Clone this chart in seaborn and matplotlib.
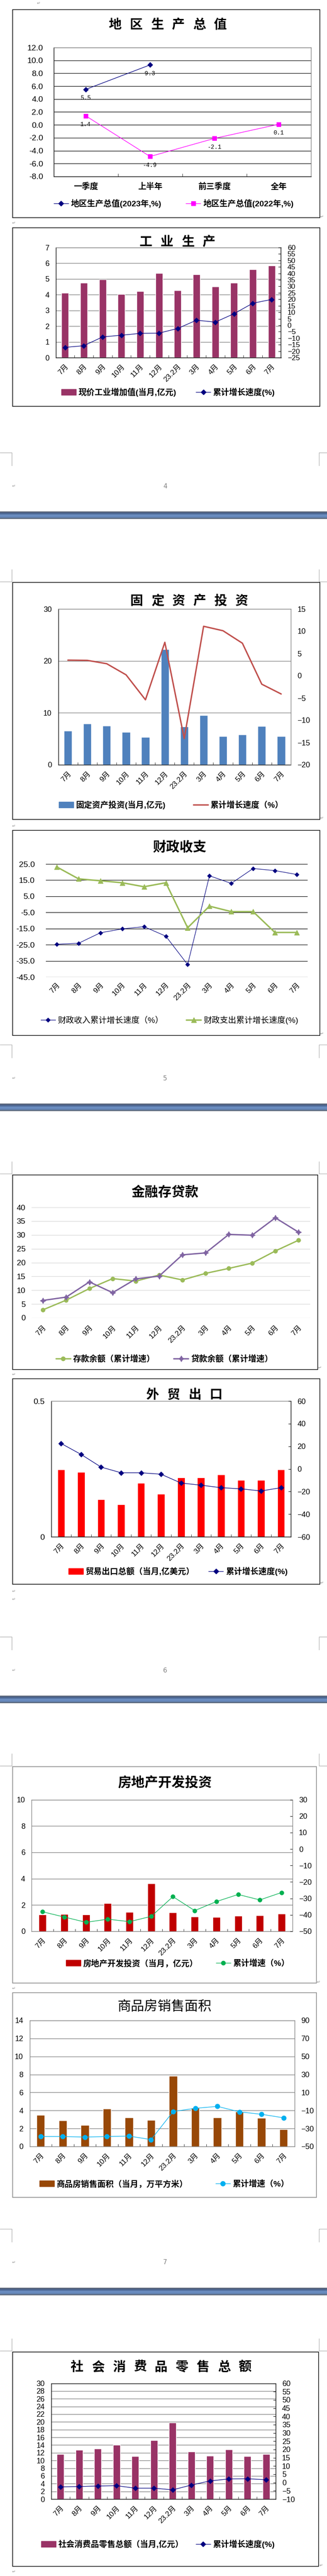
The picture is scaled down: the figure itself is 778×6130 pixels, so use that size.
import numpy as np
import pandas as pd
import matplotlib
matplotlib.use("Agg")
import matplotlib.pyplot as plt
import seaborn as sns
from matplotlib.patches import Rectangle, Patch
from matplotlib.lines import Line2D

# plain white look, black text like the Word charts
sns.set_style("white", {"axes.edgecolor": "black", "text.color": "black",
                        "xtick.color": "black", "ytick.color": "black"})
FONTS = ["Liberation Sans", "Noto Sans CJK SC", "DejaVu Sans"]
plt.rcParams["font.family"] = FONTS

# ---- data ----
REGIONS = ["一季度", "上半年", "前三季度", "全年"]
gdp_2023 = [5.5, 9.3, None, None]
gdp_2022 = [1.4, -4.9, -2.1, 0.1]

MONTHS = ["7月", "8月", "9月", "10月", "11月", "12月", "23.2月", "3月", "4月", "5月", "6月", "7月"]

ind_value = [4.12, 4.76, 4.98, 4.04, 4.23, 5.38, 4.28, 5.30, 4.52, 4.76, 5.62, 5.86]
ind_growth = [-17.1, -15.8, -9.0, -7.7, -6.3, -6.1, -2.5, 3.9, 2.4, 8.9, 17.0, 19.9]

fai_value = [6.57, 7.95, 7.56, 6.33, 5.37, 22.23, 7.38, 9.57, 5.52, 5.85, 7.47, 5.52]
fai_growth = [3.5, 3.45, 2.7, 0.2, -5.4, 7.5, -14.1, 11.1, 10.1, 7.3, -1.9, -4.1]

rev_growth = [-24.7, -24.1, -17.6, -15.2, -13.8, -19.7, -37.3, 17.7, 13.0, 22.2, 20.9, 18.5]
exp_growth = [23.2, 15.8, 14.6, 13.4, 10.9, 13.4, -14.5, -1.1, -4.5, -4.5, -17.4, -17.4]

deposit_growth = [2.9, 6.4, 10.6, 14.2, 13.3, 15.5, 13.7, 16.1, 17.9, 19.8, 24.2, 28.1]
loan_growth = [6.3, 7.5, 13.0, 9.1, 14.1, 15.1, 22.8, 23.5, 30.2, 29.9, 36.2, 31.0]

export_value = [0.248, 0.239, 0.138, 0.119, 0.198, 0.158, 0.219, 0.219, 0.229, 0.209, 0.209, 0.248]
export_growth = [22.5, 12.8, 1.6, -3.4, -3.4, -4.7, -12.5, -14.4, -16.6, -17.6, -19.5, -16.6]

re_value = [1.27, 1.31, 1.27, 2.14, 1.48, 3.64, 1.44, 1.12, 1.08, 1.19, 1.21, 1.34]
re_growth = [-38.1, -41.3, -44.5, -42.6, -44.1, -40.9, -28.9, -37.4, -31.9, -27.6, -30.9, -26.4]

sales_area = [3.49, 2.89, 2.37, 4.19, 3.21, 2.94, 7.83, 4.28, 3.21, 3.87, 3.17, 1.91]
sales_growth = [-38.9, -38.9, -39.5, -38.9, -38.4, -42.3, -11.1, -7.6, -5.4, -11.5, -14.2, -18.1]

retail_value = [11.64, 12.75, 13.08, 14.04, 11.12, 15.24, 19.79, 12.31, 11.21, 12.84, 11.12, 11.64]
retail_growth = [-2.6, -2.4, -2.1, -1.9, -3.4, -3.4, -4.4, -1.5, 1.0, 2.2, 2.3, 1.7]

NAVY, MAGENTA, MAROON = "#000080", "#FF00FF", "#993366"
STEEL, BRICK, OLIVE, PURPLE = "#4F81BD", "#C0504D", "#9BBB59", "#8064A2"
RED, DARKRED, GREEN, BROWN, CYAN = "#FF0000", "#C00000", "#00B050", "#984807", "#00B0F0"
GRAY = "#808080"

W, H = 778, 6130
fig = plt.figure(figsize=(W / 100, H / 100), dpi=100)


def fx(x):
    return x / W


def fy(y):
    return 1 - y / H


def add_ax(x0, y0, x1, y1):
    return fig.add_axes([fx(x0), fy(y1), (x1 - x0) / W, (y1 - y0) / H])


def frame(x0, y0, x1, y1, color="black", lw=1.1):
    fig.add_artist(Rectangle((fx(x0), fy(y1)), (x1 - x0) / W, (y1 - y0) / H,
                             transform=fig.transFigure, fill=False, ec=color, lw=lw))


def title(cx, cy, text, size=23, pitch=None, weight="bold"):
    if pitch is None:
        fig.text(fx(cx), fy(cy), text, ha="center", va="center", fontsize=size, fontweight=weight)
        return
    n = len(text)
    for i, ch in enumerate(text):
        fig.text(fx(cx + (i - (n - 1) / 2) * pitch), fy(cy), ch, ha="center", va="center",
                 fontsize=size, fontweight=weight)


def legend(handles, labels, cx, cy, colsp=2.5, size=14, weight="bold", hl=1.8):
    fig.legend(handles, labels, loc="center", bbox_to_anchor=(fx(cx), fy(cy)), ncol=2,
               frameon=False, prop={"size": size, "weight": weight, "family": FONTS},
               handlelength=hl, handletextpad=0.3, columnspacing=colsp,
               borderaxespad=0, borderpad=0)


def fmt(v):
    s = f"{v:g}"
    return s.replace("-", "\u2212")


def style(ax, left=None, right=None, top=None, bottom=None):
    for side, c in (("left", left), ("right", right), ("top", top), ("bottom", bottom)):
        if c is None:
            ax.spines[side].set_visible(False)
        else:
            ax.spines[side].set_visible(True)
            ax.spines[side].set_color(c)
            ax.spines[side].set_linewidth(1)


def month_axis(ax, pad=10, size=12.5, boundary=True):
    ax.set_xlim(-0.5, 11.5)
    ax.set_xticks(range(12))
    ax.set_xticklabels(MONTHS, rotation=45, ha="right", rotation_mode="anchor", fontsize=size)
    ax.tick_params(axis="x", which="major", length=0, pad=pad)
    if boundary:
        ax.set_xticks(np.arange(0.5, 11.5, 1), minor=True)
        ax.tick_params(axis="x", which="minor", bottom=True, direction="in", length=4,
                       color="black")
    ax.set_xlabel("")


def dual_chart(rect, bars, line, bar_color, line_kw, ylim, yticks, y2lim, y2ticks,
               width=0.38, grid=GRAY, sp=("black", "black", GRAY, "black"),
               right_ticks=True, ylabels=None, ysize=13, y2size=13):
    ax = add_ax(*rect)
    x = np.arange(len(bars))
    sns.barplot(x=x, y=bars, ax=ax, color=bar_color, saturation=1, width=width, errorbar=None)
    ax2 = ax.twinx()
    sns.lineplot(x=x, y=line, ax=ax2, **line_kw)
    ax.set_ylim(*ylim)
    ax.set_yticks(yticks)
    ax.set_yticklabels(ylabels or [fmt(v) for v in yticks], fontsize=ysize)
    ax.tick_params(axis="y", length=0, pad=11)
    ax.yaxis.grid(True, color=grid, lw=1)
    ax.set_axisbelow(True)
    ax2.set_ylim(*y2lim)
    ax2.set_yticks(y2ticks)
    ax2.set_yticklabels([fmt(v) for v in y2ticks], fontsize=y2size)
    ax2.tick_params(axis="y", right=right_ticks, direction="in", length=4, pad=11)
    month_axis(ax)
    ax.set_ylabel("")
    ax2.set_ylabel("")
    style(ax, left=sp[0], right=None, top=sp[2], bottom=sp[3])
    style(ax2, right=sp[1])
    return ax, ax2


def line_handle(color, marker, ms, lw):
    return Line2D([], [], color=color, marker=marker, markersize=ms, lw=lw,
                  markeredgecolor=color, markerfacecolor=color)


# ---- page furniture (Word page breaks) ----
def band(y0, y1):
    bax = fig.add_axes([0, fy(y1), 1, (y1 - y0) / H])
    keys = np.array([[0x5F, 0x68, 0x78], [0x48, 0x62, 0x8F], [0x6E, 0x91, 0xC4],
                     [0x64, 0x86, 0xBA], [0x5D, 0x66, 0x73]]) / 255
    rows = np.linspace(0, len(keys) - 1, 18)
    grad = np.stack([np.interp(rows, np.arange(len(keys)), keys[:, c]) for c in range(3)], axis=1)
    bax.imshow(grad[:, None, :], aspect="auto")
    bax.axis("off")


def seg(x0, y0, x1, y1, color="#A6A6A6"):
    fig.add_artist(Line2D([fx(x0), fx(x1)], [fy(y0), fy(y1)], transform=fig.transFigure,
                          color=color, lw=0.8))


def page_top(y):
    seg(28, y - 29, 28, y)
    seg(0, y, 28, y)
    seg(759, y - 29, 759, y)
    seg(759, y, 778, y)


def page_bottom(y):
    seg(0, y, 28, y)
    seg(28, y, 28, y + 31)
    seg(759, y, 778, y)
    seg(759, y, 759, y + 31)


def para(x, y):
    fig.text(fx(x), fy(y), "\u21b5", color="#8C8C8C", fontsize=7, ha="center", va="center",
             family="DejaVu Sans")


for yb, yt, num, y_num, yband in [(1077, 1384, "4", 1157, 1217), (2486, 2793, "5", 2566, 2626),
                                  (3895, 4202, "6", 3975, 4035), (5304, 5594, "7", 5384, 5444)]:
    page_bottom(yb)
    page_top(yt)
    band(yband, yband + 18)
    fig.text(fx(393), fy(y_num), num, color=GRAY, fontsize=11, ha="center", va="center",
             family="DejaVu Sans")
    para(33, y_num)

for px, py in [(92, 8), (766, 516), (33, 531), (766, 1947), (33, 1966), (766, 2460),
               (761, 3255), (33, 3271), (766, 3767), (33, 3787), (33, 3806),
               (758, 4717), (33, 4732), (764, 6105), (33, 6120)]:
    para(px, py)

# ---- 1. 地区生产总值 ----
frame(30, 23, 761, 518)
title(399, 60, "地区生产总值", size=22, pitch=50)
ax = add_ax(127.5, 113, 739.5, 420)
x4 = np.arange(len(REGIONS))
s23 = pd.Series(gdp_2023, dtype=float)
ok = s23.notna().values
sns.lineplot(x=x4[ok], y=s23.values[ok], ax=ax, color=NAVY, marker="D", markersize=6,
             linewidth=1, markeredgecolor=NAVY)
sns.lineplot(x=x4, y=gdp_2022, ax=ax, color=MAGENTA, marker="s", markersize=7,
             linewidth=1, markeredgecolor=MAGENTA)
for xs, ys in [(x4[ok], s23.values[ok]), (x4, gdp_2022)]:
    for xi, yi in zip(xs, ys):
        ax.annotate(f"{yi:.1f}", (xi, yi), xytext=(0, -14.5), textcoords="offset points",
                    ha="center", va="center", fontsize=10,
                    family=["Liberation Mono", "DejaVu Sans Mono"])
ax.set_xlim(-0.5, 3.5)
ax.set_ylim(-8, 12)
yt1 = np.arange(-8, 13, 2)
ax.set_yticks(yt1)
ax.set_yticklabels([f"{v:.1f}" for v in yt1], fontsize=14)
ax.tick_params(axis="y", length=0, pad=18)
ax.set_xticks(x4)
ax.set_xticklabels(REGIONS, fontsize=14, fontweight="bold")
ax.tick_params(axis="x", which="major", length=0, pad=11)
ax.set_xticks([0.5, 1.5, 2.5], minor=True)
ax.tick_params(axis="x", which="minor", bottom=True, direction="in", length=5, color="black")
ax.yaxis.grid(True, color="black", lw=0.9)
ax.set_xlabel("")
style(ax, left="black", right=GRAY, top=GRAY, bottom="black")
legend([line_handle(NAVY, "D", 6, 1), line_handle(MAGENTA, "s", 7, 1)],
       ["地区生产总值(2023年,%)", "地区生产总值(2022年,%)"], 413, 484, colsp=3.0)

# ---- 2. 工业生产 ----
frame(30, 542, 761, 967)
title(422, 577, "工业生产", size=22, pitch=50)
line_kw = dict(color=NAVY, marker="D", markersize=6, linewidth=1, markeredgecolor=NAVY)
dual_chart((132.5, 589, 668.5, 851), ind_value, ind_growth, MAROON, line_kw,
           (0, 7), range(0, 8), (-25, 60), range(-25, 61, 5), width=0.38,
           sp=("black", "black", GRAY, "black"), y2size=12.5)
legend([Patch(color=MAROON), line_handle(NAVY, "D", 6, 1)],
       ["现价工业增加值(当月,亿元)", "累计增长速度(%)"], 400, 933, colsp=2.4)

# ---- 3. 固定资产投资 ----
frame(30, 1386, 761, 1950)
title(450, 1431, "固定资产投资", size=22, pitch=50)
line_kw = dict(color=BRICK, linewidth=2.4)
dual_chart((138.5, 1449, 692, 1820), fai_value, fai_growth, STEEL, line_kw,
           (0, 30), [0, 10, 20, 30], (-20, 15), range(-20, 16, 5), width=0.42,
           sp=("black", GRAY, GRAY, "black"), right_ticks=False)
legend([Patch(color=STEEL), Line2D([], [], color=BRICK, lw=2.4)],
       ["固定资产投资(当月,亿元)", "累计增长速度（%）"], 407, 1915, colsp=3.4)

# ---- 4. 财政收支 ----
frame(30, 1976, 761, 2464)
title(427, 2018, "财政收支", size=23)
ax = add_ax(109, 2056, 732, 2325)
x12 = np.arange(12)
sns.lineplot(x=x12, y=rev_growth, ax=ax, color=NAVY, marker="D", markersize=5.5,
             linewidth=0.9, markeredgecolor=NAVY)
sns.lineplot(x=x12, y=exp_growth, ax=ax, color=OLIVE, marker="^", markersize=9,
             linewidth=2.5, markeredgecolor=OLIVE)
ax.set_ylim(-45, 25)
yt4 = np.arange(-45, 26, 10)
ax.set_yticks(yt4)
ax.set_yticklabels([f"{v:.1f}" for v in yt4], fontsize=14)
ax.tick_params(axis="y", length=0, pad=19)
ax.yaxis.grid(True, color="black", lw=0.9)
month_axis(ax, pad=8, boundary=False)
ax.set_ylabel("")
style(ax)
legend([line_handle(NAVY, "D", 5.5, 0.9), line_handle(OLIVE, "^", 9, 2.5)],
       ["财政收入累计增长速度（%）", "财政支出累计增长速度(%)"], 403, 2428, colsp=2.8,
       weight="normal")

# ---- 5. 金融存贷款 ----
frame(30, 2796, 756, 3259)
title(392, 2839, "金融存贷款", size=23)
ax = add_ax(74.5, 2873, 738, 3136)
sns.lineplot(x=x12, y=deposit_growth, ax=ax, color=OLIVE, marker="o", markersize=7,
             linewidth=2.3, markeredgecolor=OLIVE)
sns.lineplot(x=x12, y=loan_growth, ax=ax, color=PURPLE, marker=(4, 1, 0), markersize=10,
             linewidth=2.3, markeredgecolor=PURPLE)
ax.set_ylim(0, 40)
ax.set_yticks(range(0, 41, 5))
ax.set_yticklabels([fmt(v) for v in range(0, 41, 5)], fontsize=13.5)
ax.tick_params(axis="y", length=0, pad=10)
ax.yaxis.grid(True, color="#D9D9D9", lw=1)
month_axis(ax, pad=11, boundary=False)
ax.set_ylabel("")
style(ax)
legend([line_handle(OLIVE, "o", 7, 2.3), line_handle(PURPLE, (4, 1, 0), 10, 2.3)],
       ["存款余额（累计增速）", "贷款余额（累计增速）"], 391, 3234, colsp=2.3)

# ---- 6. 外贸出口 ----
frame(30, 3281, 761, 3770)
title(438, 3320, "外贸出口", size=22, pitch=50.5)
line_kw = dict(color=NAVY, marker="D", markersize=6, linewidth=1, markeredgecolor=NAVY)
ax6, _ = dual_chart((121.6, 3334, 692.3, 3657), export_value, export_growth, RED, line_kw,
                    (0, 0.5), [0, 0.5], (-60, 60), range(-60, 61, 20), width=0.37,
                    grid="none", ylabels=["0", "0.5"], sp=("black", "black", GRAY, "black"),
                    ysize=14)
ax6.yaxis.grid(False)
legend([Patch(color=RED), line_handle(NAVY, "D", 6, 1)],
       ["贸易出口总额（当月,亿美元）", "累计增长速度(%)"], 424, 3739, colsp=1.7)

# ---- 7. 房地产开发投资 ----
frame(30, 4204, 753, 4719, color=GRAY)
title(392, 4244, "房地产开发投资", size=23)
line_kw = dict(color=GREEN, marker="o", markersize=7, linewidth=1, markeredgecolor=GREEN)
dual_chart((75.4, 4282.5, 695.8, 4596), re_value, re_growth, DARKRED, line_kw,
           (0, 10), range(0, 11, 2), (-50, 30), range(-50, 31, 10), width=0.35,
           sp=(GRAY, GRAY, GRAY, GRAY))
legend([Patch(color=DARKRED), line_handle(GREEN, "o", 7, 1)],
       ["房地产开发投资（当月，亿元）", "累计增速（%）"], 423, 4672, colsp=2.2)

# ---- 8. 商品房销售面积 ----
frame(30, 4742, 753, 5229, color=GRAY)
title(391, 4776, "商品房销售面积", size=23, weight="normal")
line_kw = dict(color=CYAN, marker="o", markersize=8, linewidth=1, markeredgecolor=CYAN)
dual_chart((70.5, 4808, 701, 5108), sales_area, sales_growth, BROWN, line_kw,
           (0, 14), range(0, 15, 2), (-50, 90), range(-50, 91, 20), width=0.37,
           sp=(GRAY, GRAY, GRAY, GRAY), right_ticks=False)
legend([Patch(color=BROWN), line_handle(CYAN, "o", 8, 1)],
       ["商品房销售面积（当月，万平方米）", "累计增速（%）"], 391, 5197, colsp=3.4)

# ---- 9. 社会消费品零售总额 ----
frame(30, 5597, 758, 6107)
title(383, 5634, "社会消费品零售总额", size=22, pitch=50)
line_kw = dict(color=NAVY, marker="D", markersize=6, linewidth=1, markeredgecolor=NAVY)
dual_chart((121.6, 5671.5, 655.6, 5947), retail_value, retail_growth, MAROON, line_kw,
           (0, 30), range(0, 31, 2), (-10, 60), range(-10, 61, 5), width=0.38,
           sp=("black", "black", "black", "black"), ysize=13, y2size=13)
legend([Patch(color=MAROON), line_handle(NAVY, "D", 6, 1)],
       ["社会消费品零售总额（当月,亿元）", "累计增长速度(%)"], 376, 6054, colsp=1.5)

fig.savefig("out.png", dpi=100, facecolor="white")
